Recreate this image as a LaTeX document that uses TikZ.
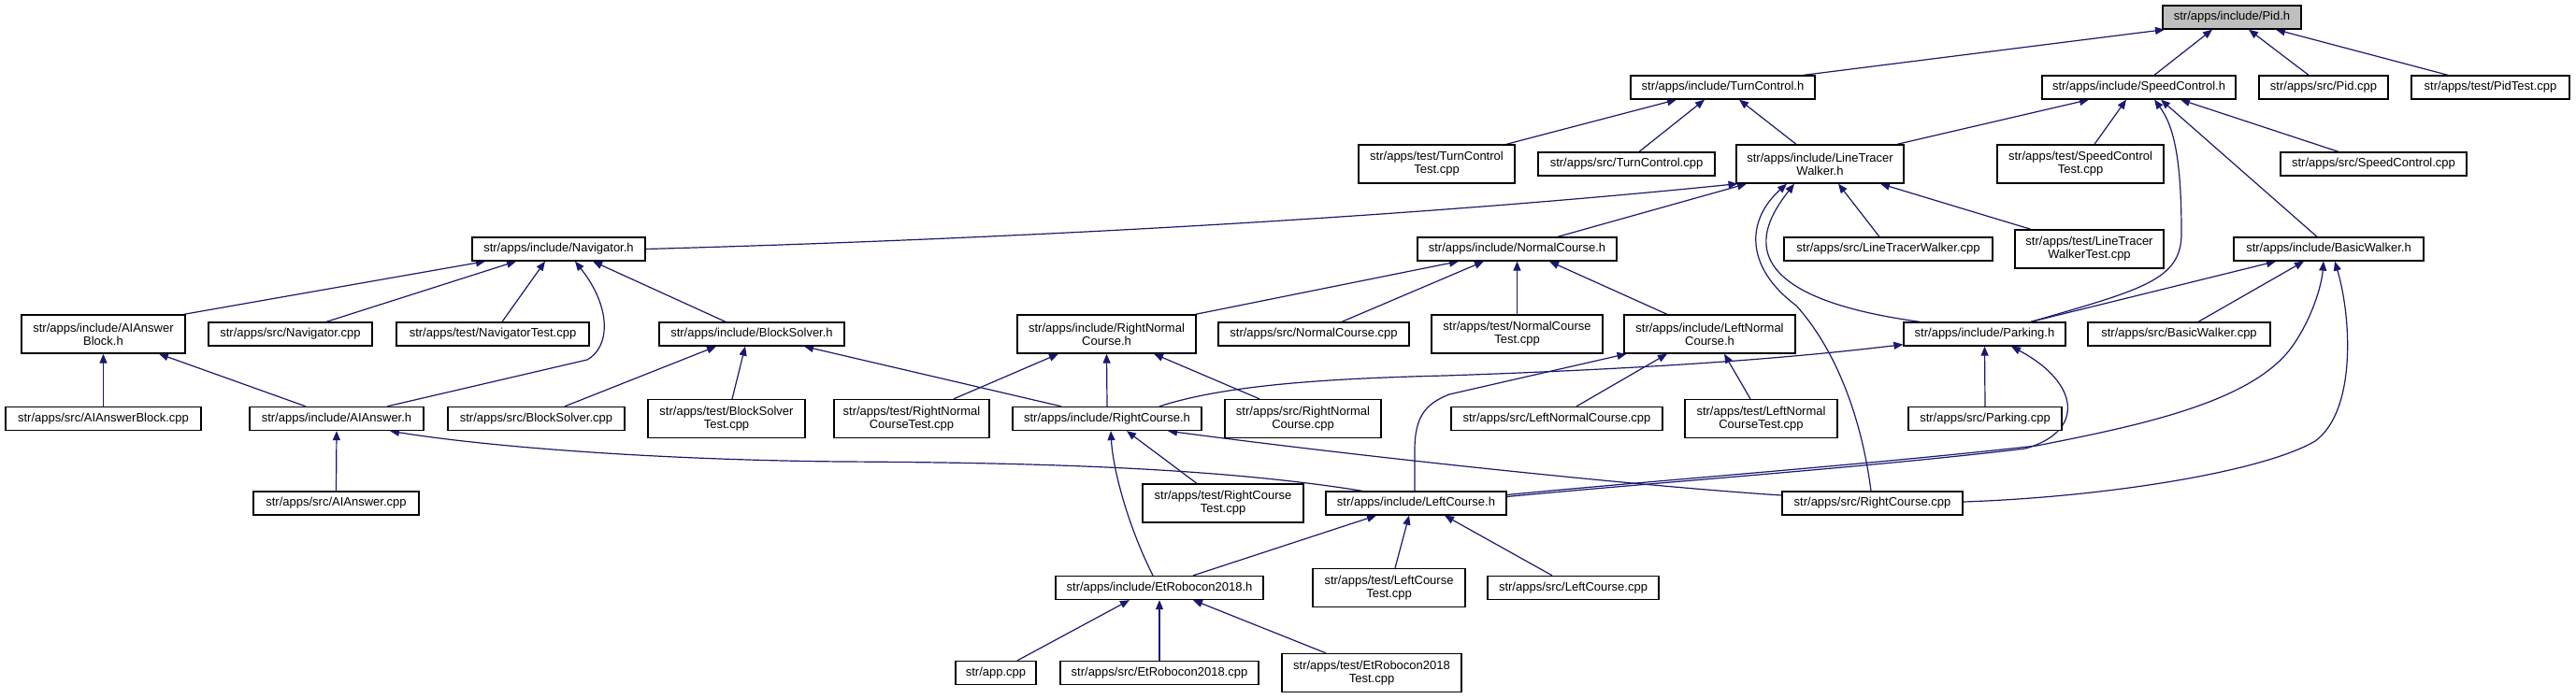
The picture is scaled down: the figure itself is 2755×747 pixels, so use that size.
\documentclass[tikz,border=0pt]{standalone}
\usepackage{fontspec}
\setmainfont{Liberation Sans}
\usetikzlibrary{arrows.meta}
\definecolor{edgec}{HTML}{191970}
\definecolor{pidfill}{HTML}{BFBFBF}
\pgfdeclarelayer{background}
\pgfdeclarelayer{canvas}
\pgfsetlayers{canvas,background,main}
\begin{document}
\begin{tikzpicture}[x=1pt,y=-1pt,
  box/.style={draw=black, line width=1.3pt, fill=white, inner sep=0pt, align=center,
    font=\fontsize{13pt}{14pt}\selectfont},
  bone/.style={box, minimum height=25pt},
  btwo/.style={box, minimum height=41pt},
  e/.style={draw=edgec, line width=1.2pt, -{Triangle[length=10pt,width=8pt]}}]
\useasboundingbox (0,0) rectangle (2755,747);
\begin{pgfonlayer}{canvas}
\fill[white] (0,0) rectangle (2755,747);
\end{pgfonlayer}
% row 1
\node[bone, minimum width=148pt, fill=pidfill] (pid) at (2387,18.5) {str/apps/include/Pid.h};
% row 2
\node[bone, minimum width=197pt] (turnh) at (1842.5,93.5) {str/apps/include/TurnControl.h};
\node[bone, minimum width=207pt] (speedh) at (2287.5,93.5) {str/apps/include/SpeedControl.h};
\node[bone, minimum width=138pt] (pidcpp) at (2485,93.5) {str/apps/src/Pid.cpp};
\node[bone, minimum width=169pt] (pidtest) at (2663.5,93.5) {str/apps/test/PidTest.cpp};
% row 3
\node[btwo, minimum width=167pt] (turntest) at (1536.5,175.5) {str/apps/test/TurnControl\\Test.cpp};
\node[bone, minimum width=189pt] (turncpp) at (1739.5,175.5) {str/apps/src/TurnControl.cpp};
\node[btwo, minimum width=179pt] (ltwh) at (1946.5,175.5) {str/apps/include/LineTracer\\Walker.h};
\node[btwo, minimum width=178pt] (speedtest) at (2225,175.5) {str/apps/test/SpeedControl\\Test.cpp};
\node[bone, minimum width=199pt] (speedcpp) at (2538.5,175.5) {str/apps/src/SpeedControl.cpp};
% row 4
\node[bone, minimum width=185pt] (navh) at (597.5,266.5) {str/apps/include/Navigator.h};
\node[bone, minimum width=213pt] (normh) at (1622.5,266.5) {str/apps/include/NormalCourse.h};
\node[bone, minimum width=223pt] (ltwcpp) at (2019.5,266.5) {str/apps/src/LineTracerWalker.cpp};
\node[btwo, minimum width=159pt] (ltwtest) at (2234.5,266.5) {str/apps/test/LineTracer\\WalkerTest.cpp};
\node[bone, minimum width=203pt] (basich) at (2490.5,266.5) {str/apps/include/BasicWalker.h};
% row 5
\node[btwo, minimum width=175pt] (aibh) at (110.5,357.5) {str/apps/include/AIAnswer\\Block.h};
\node[bone, minimum width=175pt] (navcpp) at (310.5,357.5) {str/apps/src/Navigator.cpp};
\node[bone, minimum width=206pt] (navtest) at (527,357.5) {str/apps/test/NavigatorTest.cpp};
\node[bone, minimum width=198pt] (bsh) at (804,357.5) {str/apps/include/BlockSolver.h};
\node[btwo, minimum width=191pt] (rnch) at (1183.5,357.5) {str/apps/include/RightNormal\\Course.h};
\node[bone, minimum width=204pt] (normcpp) at (1405,357.5) {str/apps/src/NormalCourse.cpp};
\node[btwo, minimum width=183pt] (normtest) at (1622.5,357.5) {str/apps/test/NormalCourse\\Test.cpp};
\node[btwo, minimum width=183pt] (lnch) at (1828.5,357.5) {str/apps/include/LeftNormal\\Course.h};
\node[bone, minimum width=173pt] (parkh) at (2122.5,357.5) {str/apps/include/Parking.h};
\node[bone, minimum width=195pt] (basiccpp) at (2330.5,357.5) {str/apps/src/BasicWalker.cpp};
% row 6
\node[bone, minimum width=209pt] (aibcpp) at (110.5,448) {str/apps/src/AIAnswerBlock.cpp};
\node[bone, minimum width=186pt] (aih) at (360,448) {str/apps/include/AIAnswer.h};
\node[bone, minimum width=189pt] (bscpp) at (573.5,448) {str/apps/src/BlockSolver.cpp};
\node[btwo, minimum width=168pt] (bstest) at (777,448) {str/apps/test/BlockSolver\\Test.cpp};
\node[btwo, minimum width=166pt] (rnctest) at (975,448) {str/apps/test/RightNormal\\CourseTest.cpp};
\node[bone, minimum width=202pt] (rch) at (1184,448) {str/apps/include/RightCourse.h};
\node[btwo, minimum width=167pt] (rnccpp) at (1393.5,448) {str/apps/src/RightNormal\\Course.cpp};
\node[bone, minimum width=226pt] (lnccpp) at (1665,448) {str/apps/src/LeftNormalCourse.cpp};
\node[btwo, minimum width=163pt] (lnctest) at (1883.5,448) {str/apps/test/LeftNormal\\CourseTest.cpp};
\node[bone, minimum width=164pt] (parkcpp) at (2123,448) {str/apps/src/Parking.cpp};
% row 7
\node[bone, minimum width=177pt] (aicpp) at (359.5,538.5) {str/apps/src/AIAnswer.cpp};
\node[btwo, minimum width=172pt] (rctest) at (1308,538.5) {str/apps/test/RightCourse\\Test.cpp};
\node[bone, minimum width=193pt] (lch) at (1514.5,538.5) {str/apps/include/LeftCourse.h};
\node[bone, minimum width=193pt] (rccpp) at (2002.5,538.5) {str/apps/src/RightCourse.cpp};
% row 8
\node[bone, minimum width=222pt] (eth) at (1240,629) {str/apps/include/EtRobocon2018.h};
\node[btwo, minimum width=163pt] (lctest) at (1485.5,629) {str/apps/test/LeftCourse\\Test.cpp};
\node[bone, minimum width=183pt] (lccpp) at (1682.5,629) {str/apps/src/LeftCourse.cpp};
% row 9
\node[bone, minimum width=86pt] (appcpp) at (1065,720) {str/app.cpp};
\node[bone, minimum width=212pt] (etcpp) at (1240,720) {str/apps/src/EtRobocon2018.cpp};
\node[btwo, minimum width=192pt] (ettest) at (1467,720) {str/apps/test/EtRobocon2018\\Test.cpp};

\begin{pgfonlayer}{background}
% to Pid.h
\draw[e] ([xshift=86.5pt]turnh.north) -- ([xshift=-72pt]pid.south);
\draw[e] ([xshift=16.5pt]speedh.north) -- ([xshift=-21pt]pid.south);
\draw[e] ([xshift=-16pt]pidcpp.north) -- ([xshift=18pt]pid.south);
\draw[e] ([xshift=-45.5pt]pidtest.north) -- ([xshift=47pt]pid.south);
% to TurnControl.h
\draw[e] ([xshift=74.5pt]turntest.north) -- ([xshift=-49.5pt]turnh.south);
\draw[e] ([xshift=13.5pt]turncpp.north) -- ([xshift=-19.5pt]turnh.south);
\draw[e] ([xshift=-25.5pt]ltwh.north) -- ([xshift=17.5pt]turnh.south);
% to SpeedControl.h
\draw[e] ([xshift=82.5pt]ltwh.north) -- ([xshift=-53.5pt]speedh.south);
\draw[e] ([xshift=15pt]speedtest.north) -- ([xshift=-13.5pt]speedh.south);
\draw[e] ([xshift=-37.5pt]speedcpp.north) -- ([xshift=44.5pt]speedh.south);
\draw[e] ([xshift=-12.5pt]basich.north) -- ([xshift=23.5pt]speedh.south);
\draw[e] ([xshift=49.5pt]parkh.north) .. controls (2290,310) and (2333,300) .. (2333,250) .. controls (2333,170) and (2325,135) .. ([xshift=16.5pt]speedh.south);
% to LineTracerWalker.h
\draw[e] (navh.east) .. controls (1000,258) and (1450,238) .. ([xshift=-88pt]ltwh.south);
\draw[e] ([xshift=43.5pt]normh.north) -- ([xshift=-78.5pt]ltwh.south);
\draw[e] ([xshift=-69.5pt]parkh.north) .. controls (1840,315) and (1885,240) .. ([xshift=-27.5pt]ltwh.south);
\draw[e] ([xshift=-1.5pt]rccpp.north) .. controls (1990,440) and (1960,370) .. (1921,327) .. controls (1865,285) and (1868,235) .. ([xshift=-35.5pt]ltwh.south);
\draw[e] ([xshift=-9.5pt]ltwcpp.north) -- ([xshift=19.5pt]ltwh.south);
\draw[e] ([xshift=-62.5pt]ltwtest.north) -- ([xshift=64.5pt]ltwh.south);
% to Navigator.h
\draw[e] ([xshift=86pt]aibh.north) -- ([xshift=-78.5pt]navh.south);
\draw[e] ([xshift=38.5pt]navcpp.north) -- ([xshift=-45.5pt]navh.south);
\draw[e] ([xshift=10pt]navtest.north) -- ([xshift=-14.5pt]navh.south);
\draw[e] ([xshift=54pt]aih.north) -- (628,385) .. controls (652,372) and (655,330) .. ([xshift=17.5pt]navh.south);
\draw[e] ([xshift=-28pt]bsh.north) -- ([xshift=36.5pt]navh.south);
% to AIAnswerBlock.h
\draw[e] (aibcpp.north) -- (aibh.south);
\draw[e] ([xshift=-33pt]aih.north) -- ([xshift=59.5pt]aibh.south);
% to BlockSolver.h
\draw[e] ([xshift=30.5pt]bscpp.north) -- ([xshift=-38pt]bsh.south);
\draw[e] ([xshift=6pt]bstest.north) -- ([xshift=-7pt]bsh.south);
\draw[e] ([xshift=-49pt]rch.north) -- ([xshift=56pt]bsh.south);
% to AIAnswer.h
\draw[e] (aicpp.north) -- (aih.south);
\draw[e] ([xshift=-57.5pt]lch.north) .. controls (1300,500) and (1100,495) .. (900,494) .. controls (700,492) and (520,478) .. ([xshift=57pt]aih.south);
% to NormalCourse.h
\draw[e] ([xshift=95pt]rnch.north) -- ([xshift=-62.5pt]normh.south);
\draw[e] ([xshift=30pt]normcpp.north) -- ([xshift=-35.5pt]normh.south);
\draw[e] (normtest.north) -- (normh.south);
\draw[e] ([xshift=-45.5pt]lnch.north) -- ([xshift=34.5pt]normh.south);
% to RightNormalCourse.h
\draw[e] ([xshift=45pt]rnctest.north) -- ([xshift=-51.5pt]rnch.south);
\draw[e] (rch.north) -- (rnch.south);
\draw[e] ([xshift=-46.5pt]rnccpp.north) -- ([xshift=50.5pt]rnch.south);
% to LeftNormalCourse.h
\draw[e] ([xshift=-1.5pt]lch.north) -- (1513,482) .. controls (1513,445) and (1525,432) .. (1550,422) -- ([xshift=-89pt]lnch.south);
\draw[e] ([xshift=21pt]lnccpp.north) -- ([xshift=-45.5pt]lnch.south);
\draw[e] ([xshift=-11.5pt]lnctest.north) -- ([xshift=15.5pt]lnch.south);
% to Parking.h
\draw[e] ([xshift=56pt]rch.north) .. controls (1310,412) and (1420,405) .. (1545,402) .. controls (1750,395) and (1900,385) .. ([yshift=2pt]parkh.south west);
\draw[e] (parkcpp.north) -- (parkh.south);
\draw[e] ([yshift=7pt]lch.east) .. controls (1750,518) and (2000,500) .. (2166,480) .. controls (2230,462) and (2225,410) .. ([xshift=28.5pt]parkh.south);
% to BasicWalker.h
\draw[e] ([xshift=49.5pt]parkh.north) -- ([xshift=-56.5pt]basich.south);
\draw[e] ([xshift=20.5pt]basiccpp.north) -- ([xshift=-26.5pt]basich.south);
\draw[e] ([yshift=9pt]lch.east) .. controls (1750,516) and (2000,497) .. (2178,477) .. controls (2290,455) and (2410,430) .. (2452,370) .. controls (2473,340) and (2483,305) .. ([xshift=-5.5pt]basich.south);
\draw[e] ([yshift=1.5pt]rccpp.east) .. controls (2250,532) and (2420,505) .. (2476,472) .. controls (2520,440) and (2515,340) .. ([xshift=6.5pt]basich.south);
% to RightCourse.h
\draw[e] ([xshift=-28pt]rctest.north) -- ([xshift=21pt]rch.south);
\draw[e] ([xshift=-7pt]eth.north) .. controls (1205,560) and (1190,500) .. ([xshift=4pt]rch.south);
\draw[e] ([yshift=8.5pt]rccpp.west) .. controls (1750,520) and (1450,488) .. ([xshift=65pt]rch.south);
% to LeftCourse.h
\draw[e] ([xshift=36pt]eth.north) -- ([xshift=-42.5pt]lch.south);
\draw[e] ([xshift=6.5pt]lctest.north) -- ([xshift=-7.5pt]lch.south);
\draw[e] ([xshift=-22.5pt]lccpp.north) -- ([xshift=30.5pt]lch.south);
% to EtRobocon2018.h
\draw[e] ([xshift=23pt]appcpp.north) -- ([xshift=-32pt]eth.south);
\draw[e] (etcpp.north) -- (eth.south);
\draw[e] ([xshift=-49pt]ettest.north) -- ([xshift=36pt]eth.south);
\end{pgfonlayer}
\end{tikzpicture}
\end{document}
